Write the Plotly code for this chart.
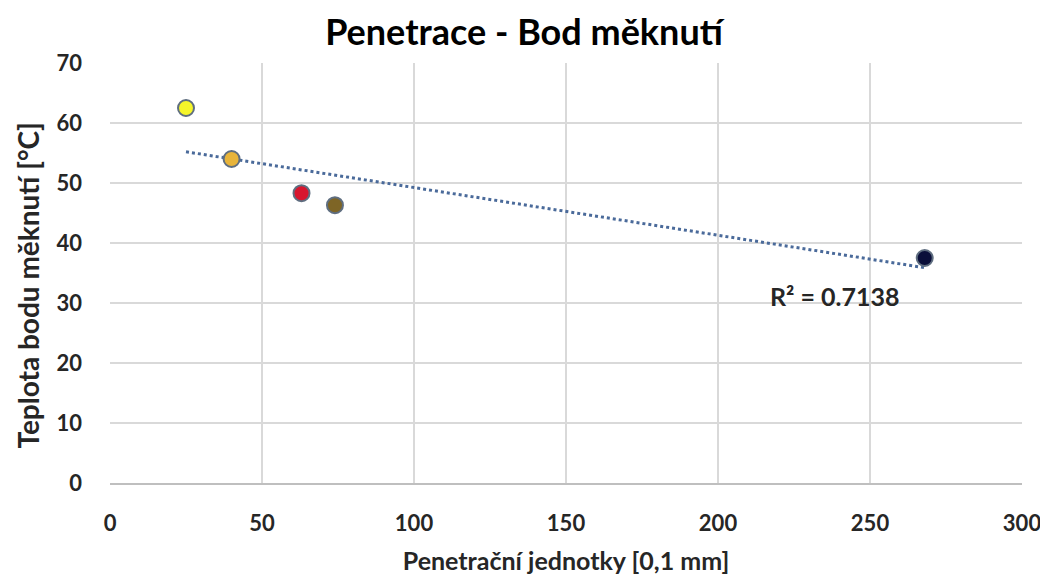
import numpy as np
import plotly.graph_objects as go

# Data
penetration = [25, 40, 63, 74, 268]
softening = [62.5, 54.0, 48.3, 46.3, 37.5]
point_colors = ["#F5F52A", "#E8B43A", "#D8162E", "#7E6526", "#0A0F3A"]
x_ticks = [0, 50, 100, 150, 200, 250, 300]
y_ticks = [0, 10, 20, 30, 40, 50, 60, 70]
r2_text = "R² = 0.7138"

# linear trendline (least squares) over the data range
slope, intercept = np.polyfit(penetration, softening, 1)
tx = [min(penetration), max(penetration)]
ty = [slope * v + intercept for v in tx]

FONT = "Lato"
TXT = "#262626"

fig = go.Figure()
fig.add_trace(go.Scatter(
    x=tx, y=ty, mode="lines",
    line=dict(color="#4A6A9A", width=3, dash="dot"),
    showlegend=False, hoverinfo="skip",
))
fig.add_trace(go.Scatter(
    x=penetration, y=softening, mode="markers",
    marker=dict(size=16, color=point_colors,
                line=dict(color="#5F6E80", width=2)),
    showlegend=False,
))

fig.add_annotation(
    x=238.5, y=31.2, text=r2_text, showarrow=False,
    font=dict(family=FONT, size=25, color=TXT, weight="bold"),
)

# y-axis title placed as rotated text
fig.add_annotation(
    xref="paper", yref="paper", x=-0.090, y=0.47,
    text="Teplota bodu měknutí [°C]", textangle=-90, showarrow=False,
    xanchor="center", yanchor="middle",
    font=dict(family=FONT, size=28, color=TXT, weight="bold"),
)

fig.update_layout(
    width=1048, height=578,
    paper_bgcolor="white", plot_bgcolor="white",
    margin=dict(l=102, r=34, t=55, b=103, autoexpand=False),
    title=dict(text="Penetrace - Bod měknutí", x=516 / 1048, xanchor="center",
               y=0.958, yanchor="middle",
               font=dict(family=FONT, size=36, color="black", weight="bold")),
    xaxis=dict(range=[0, 300], tickvals=x_ticks, showgrid=True,
               gridcolor="#D9D9D9", gridwidth=2, zeroline=False,
               showline=True, linecolor="#BFBFBF", linewidth=2,
               ticks="", ticklabelstandoff=20, automargin=False,
               tickfont=dict(family=FONT, size=22, color=TXT, weight="bold"),
               title=dict(text="Penetrační jednotky [0,1 mm]", standoff=17,
                          font=dict(family=FONT, size=25, color=TXT, weight="bold"))),
    yaxis=dict(range=[0, 70], tickvals=y_ticks, showgrid=True,
               gridcolor="#D9D9D9", gridwidth=2, zeroline=False,
               showline=False, ticks="", ticklabelstandoff=27, automargin=False,
               tickfont=dict(family=FONT, size=22, color=TXT, weight="bold")),
)

fig.write_html("out.html")
